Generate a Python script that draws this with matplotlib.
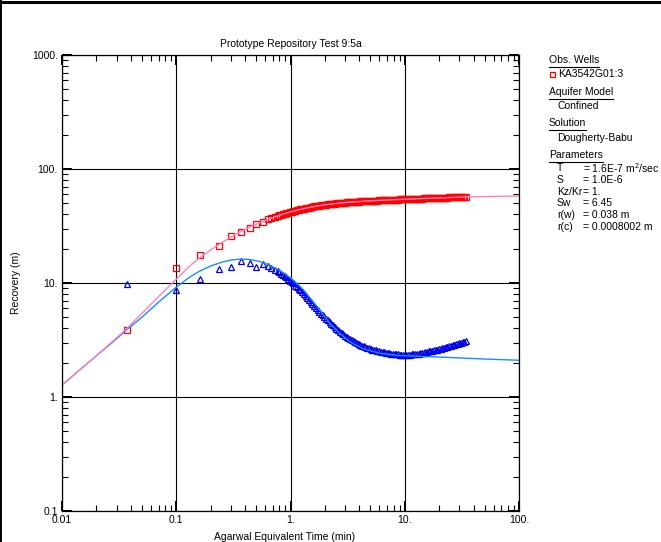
import matplotlib
matplotlib.use('Agg')
import matplotlib.pyplot as plt
from matplotlib.lines import Line2D
from matplotlib.ticker import FixedLocator, FixedFormatter, LogLocator, NullFormatter

plt.rcParams['font.family'] = ['Liberation Sans', 'DejaVu Sans']
plt.rcParams['mathtext.fontset'] = 'custom'
plt.rcParams['mathtext.rm'] = 'Liberation Sans'
plt.rcParams['mathtext.it'] = 'Liberation Sans:italic'

# early, well separated readings
early_time = [0.037, 0.1, 0.161, 0.237, 0.30, 0.37, 0.44, 0.50, 0.57,
              0.63, 0.68, 0.73, 0.77]
early_recovery = [3.87, 13.5, 17.6, 21.1, 25.8, 28.0, 30.3, 33.0, 34.3,
                  36.3, 37.2, 38.1, 38.8]
early_deriv = [9.75, 8.7, 10.8, 13.3, 13.7, 15.6, 15.0, 13.7, 14.6,
               14.0, 13.6, 13.1, 12.7]

# late readings, dense enough that the markers merge into a band
late_time = [0.80, 0.83,
             0.86, 0.89, 0.92, 0.955, 0.99, 1.025, 1.06, 1.10, 1.14, 1.18,
             1.22, 1.265, 1.31, 1.355, 1.40, 1.45, 1.50, 1.555, 1.61, 1.665,
             1.725, 1.785, 1.85, 1.915, 1.98, 2.05, 2.12, 2.195, 2.27, 2.35,
             2.43, 2.52, 2.61, 2.70, 2.80, 2.90, 3.0, 3.1, 3.21, 3.32,
             3.44, 3.56, 3.69, 3.82, 3.95, 4.09, 4.23, 4.38, 4.53, 4.69,
             4.86, 5.03, 5.2, 5.39, 5.58, 5.77, 5.97, 6.18, 6.4, 6.62,
             6.85, 7.09, 7.34, 7.6, 7.86, 8.14, 8.42, 8.72, 9.02, 9.34,
             9.67, 10.0, 10.35, 10.7, 11.1, 11.5, 11.9, 12.3, 12.7, 13.2,
             13.6, 14.1, 14.6, 15.1, 15.6, 16.2, 16.7, 17.3, 17.9, 18.6,
             19.2, 19.9, 20.6, 21.3, 22.0, 22.8, 23.6, 24.4, 25.3, 26.2,
             27.1, 28.0, 29.0, 30.0, 31.1, 32.2, 33.3, 34.5]
late_recovery = [39.3, 39.8,
                 40.2, 40.6, 41.0, 41.4, 41.9, 42.3, 42.7, 43.1, 43.5, 43.9,
                 44.2, 44.6, 44.9, 45.3, 45.6, 45.9, 46.3, 46.6, 46.9, 47.2,
                 47.5, 47.8, 48.0, 48.3, 48.5, 48.8, 49.0, 49.2, 49.4, 49.6,
                 49.8, 50.0, 50.2, 50.3, 50.5, 50.7, 50.8, 51.0, 51.1, 51.2,
                 51.4, 51.5, 51.6, 51.7, 51.8, 51.9, 52.0, 52.1, 52.2, 52.3,
                 52.4, 52.5, 52.6, 52.7, 52.8, 52.9, 53.0, 53.1, 53.2, 53.3,
                 53.4, 53.5, 53.6, 53.7, 53.8, 53.9, 54.0, 54.0, 54.1, 54.2,
                 54.3, 54.3, 54.4, 54.5, 54.6, 54.6, 54.7, 54.8, 54.9, 54.9,
                 55.0, 55.1, 55.2, 55.2, 55.3, 55.4, 55.5, 55.5, 55.6, 55.7,
                 55.8, 55.8, 55.9, 56.0, 56.1, 56.1, 56.2, 56.3, 56.4, 56.4,
                 56.5, 56.6, 56.7, 56.8, 56.8, 56.9, 57.0, 57.1]
late_deriv = [12.4, 12.1,
              11.8, 11.5, 11.2, 10.9, 10.5, 10.2, 9.9, 9.5, 9.2, 8.9,
              8.6, 8.3, 8.0, 7.7, 7.4, 7.1, 6.8, 6.5, 6.25, 6.0,
              5.8, 5.6, 5.4, 5.2, 5.0, 4.85, 4.7, 4.55, 4.4, 4.25,
              4.1, 3.98, 3.86, 3.75, 3.65, 3.55, 3.46, 3.38, 3.30, 3.22,
              3.15, 3.08, 3.02, 2.96, 2.91, 2.86, 2.82, 2.78, 2.74, 2.70,
              2.67, 2.64, 2.61, 2.58, 2.56, 2.54, 2.52, 2.50, 2.48, 2.46,
              2.44, 2.43, 2.41, 2.40, 2.39, 2.38, 2.37, 2.36, 2.35, 2.35,
              2.34, 2.34, 2.34, 2.35, 2.35, 2.36, 2.37, 2.38, 2.39, 2.40,
              2.42, 2.43, 2.45, 2.47, 2.49, 2.51, 2.53, 2.55, 2.57, 2.59,
              2.61, 2.64, 2.66, 2.68, 2.71, 2.73, 2.76, 2.78, 2.81, 2.84,
              2.86, 2.89, 2.92, 2.95, 2.98, 3.01, 3.04, 3.08]

# Dougherty-Babu type curves
fit_time = [0.01, 0.014, 0.02, 0.028, 0.037, 0.05, 0.07, 0.1, 0.13, 0.16,
            0.2, 0.24, 0.3, 0.36, 0.45, 0.62, 0.8, 1.0, 1.3, 1.6,
            2.0, 3.0, 5.0, 10.0, 20.0, 35.0, 60.0, 100.0]
fit_recovery = [1.27, 1.7, 2.3, 3.1, 4.0, 5.4, 7.6, 10.8, 14.0, 16.6,
                19.5, 22.0, 25.3, 28.0, 31.4, 35.7, 39.3, 42.0, 44.9, 46.8,
                48.5, 50.8, 52.6, 54.3, 55.8, 56.9, 57.5, 57.9]
fitd_time = [0.01, 0.014, 0.02, 0.028, 0.037, 0.05, 0.07, 0.1, 0.13, 0.16,
             0.2, 0.25, 0.3, 0.36, 0.44, 0.54, 0.65, 0.81, 1.0, 1.13,
             1.3, 1.5, 1.8, 2.22, 2.7, 3.3, 4.3, 6.0, 8.5, 13.6,
             23.0, 46.0, 100.0]
fitd_recovery = [1.27, 1.7, 2.3, 3.05, 3.9, 5.0, 6.8, 9.2, 11.2, 12.7,
                 14.1, 15.2, 15.9, 16.2, 16.1, 15.4, 14.4, 12.8, 11.1, 10.0,
                 8.7, 7.3, 5.8, 4.4, 3.6, 3.05, 2.65, 2.42, 2.32, 2.27,
                 2.23, 2.16, 2.1]

x_ticks = [0.01, 0.1, 1, 10, 100]
x_labels = ['0.01', '0.1', '1.', '10.', '100.']
y_ticks = [0.1, 1, 10, 100, 1000]
y_labels = ['0.1', '1.', '10.', '100.', '1000.']

W, H = 661, 542
fig = plt.figure(figsize=(W / 100, H / 100), dpi=100)
ax = fig.add_axes([62 / W, 1 - 511 / H, (519 - 62) / W, (511 - 55) / H])

obs_time = early_time + late_time
ax.plot(obs_time, early_recovery + late_recovery, 's', ms=5, mfc='none',
        mec='#ff0000', mew=0.9)
ax.plot(obs_time, early_deriv + late_deriv, '^', ms=5, mfc='none',
        mec='#0000e8', mew=0.9)
ax.plot(fitd_time, fitd_recovery, '-', color='#1e88ff', lw=1.0)
ax.plot(fit_time, fit_recovery, '-', color='#ff80c0', lw=1.0)

ax.set_xscale('log')
ax.set_yscale('log')
ax.set_xlim(0.01, 100)
ax.set_ylim(0.1, 1000)
ax.xaxis.set_major_locator(FixedLocator(x_ticks))
ax.xaxis.set_major_formatter(FixedFormatter(x_labels))
ax.yaxis.set_major_locator(FixedLocator(y_ticks))
ax.yaxis.set_major_formatter(FixedFormatter(y_labels))
ax.xaxis.set_minor_locator(LogLocator(base=10, subs=range(2, 10)))
ax.yaxis.set_minor_locator(LogLocator(base=10, subs=range(2, 10)))
ax.xaxis.set_minor_formatter(NullFormatter())
ax.yaxis.set_minor_formatter(NullFormatter())
ax.tick_params(which='both', direction='in', top=True, right=True, labelsize=7.5)
ax.tick_params(which='major', length=7, width=1.4, pad=3)
ax.tick_params(which='minor', length=4.5, width=0.8)
ax.grid(which='major', color='black', lw=0.8)
for s in ax.spines.values():
    s.set_linewidth(0.9)

ax.set_title('Prototype Repository Test 9:5a', fontsize=7.5, pad=6)
fig.text(16 / W, 1 - 283 / H, 'Recovery (m)', rotation=90, fontsize=7.5,
         ha='center', va='center')
fig.text(285 / W, 1 - 532 / H, 'Agarwal Equivalent Time (min)', fontsize=7.5,
         ha='center', va='top')


def px(x, y):
    return x / W, 1 - y / H


fs = 7.5
headers = [('Obs. Wells', 60), ('Aquifer Model', 92), ('Solution', 123), ('Parameters', 155)]
header_texts = []
for label, y in headers:
    header_texts.append(fig.text(*px(549, y), label, fontsize=fs, va='center'))

fig.add_artist(Line2D([552 / W], [1 - 74 / H], marker='s', ms=3.6, mfc='none',
                      mec='#ff0000', mew=0.9))
fig.text(*px(558, 74), 'KA3542G01:3', fontsize=fs, va='center')
fig.text(*px(557, 106), 'Confined', fontsize=fs, va='center')
fig.text(*px(557, 138), 'Dougherty-Babu', fontsize=fs, va='center')

param_names = ['T', 'S', 'Kz/Kr', 'Sw', 'r(w)', 'r(c)']
param_values = ['= 1.6E-7 m$^2$/sec', '= 1.0E-6', '= 1.', '= 6.45',
                '= 0.038 m', '= 0.0008002 m']
for i, (n, v) in enumerate(zip(param_names, param_values)):
    y = 168 + i * 11.8
    fig.text(*px(557, y), n, fontsize=fs, va='center')
    fig.text(*px(583, y), v, fontsize=fs, va='center')

# underline the section headers
fig.canvas.draw()
renderer = fig.canvas.get_renderer()
for t in header_texts:
    bb = t.get_window_extent(renderer)
    yline = bb.y0 - 1.5
    fig.add_artist(Line2D([bb.x0 / W, bb.x1 / W], [yline / H, yline / H],
                          color='black', lw=0.8))

# page border visible at the top and left edge
fig.add_artist(Line2D([0, 1], [1 - 1.5 / H, 1 - 1.5 / H], color='black', lw=2.2))
fig.add_artist(Line2D([1 / W, 1 / W], [0, 1], color='black', lw=1.4))

fig.savefig('out.png', dpi=100)
